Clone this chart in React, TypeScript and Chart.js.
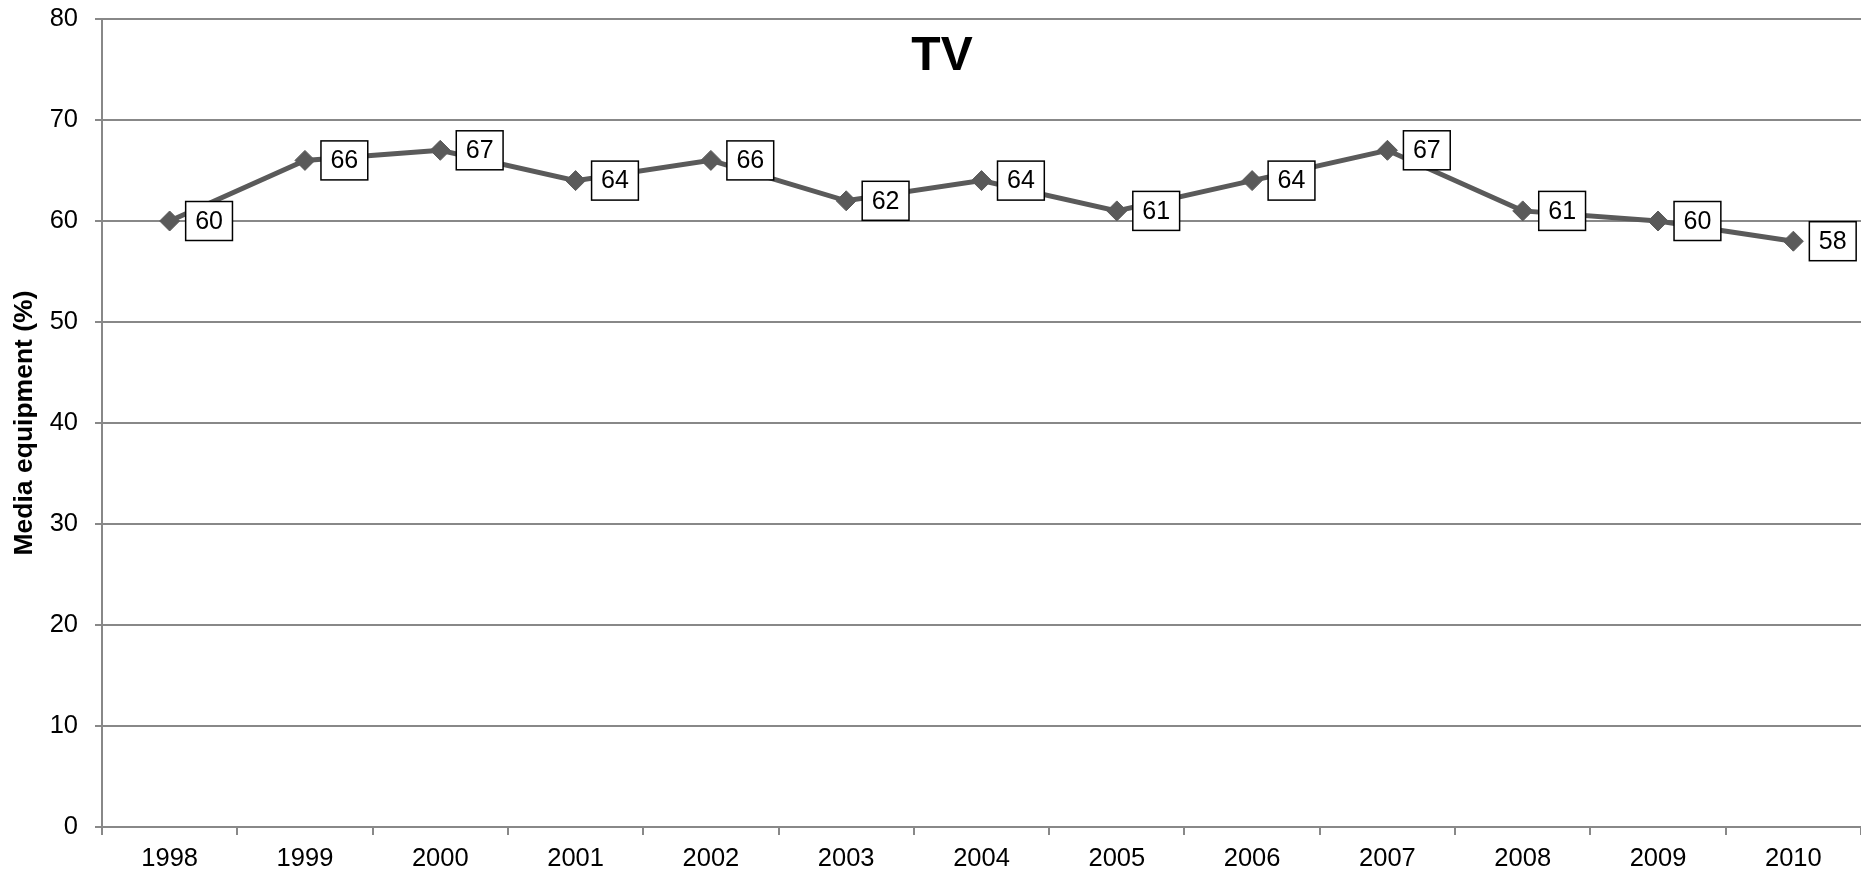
import React, { useEffect, useRef } from "react";
import { Chart, registerables } from "chart.js";

Chart.register(...registerables);

const years = ["1998", "1999", "2000", "2001", "2002", "2003", "2004", "2005", "2006", "2007", "2008", "2009", "2010"];
const tvValues = [60, 66, 67, 64, 66, 62, 64, 61, 64, 67, 61, 60, 58];
const chartTitle = "TV";
const yAxisTitle = "Media equipment (%)";

const FONT = "'Liberation Sans', Arial, sans-serif";
const GRID = "#888888";
const LINE = "#5a5a5a";

const overlayPlugin = {
  id: "overlay",
  afterDatasetsDraw(chart: any) {
    const ctx = chart.ctx;
    const meta = chart.getDatasetMeta(0);
    const data = chart.data.datasets[0].data as number[];
    ctx.save();
    ctx.font = `25px ${FONT}`;
    meta.data.forEach((pt: any, i: number) => {
      const text = String(data[i]);
      const tw = ctx.measureText(text).width;
      const w = tw + 19;
      const h = 39;
      const left = pt.x + 16;
      const top = pt.y - h / 2;
      ctx.fillStyle = "#ffffff";
      ctx.fillRect(left, top, w, h);
      ctx.strokeStyle = "#000000";
      ctx.lineWidth = 1.5;
      ctx.strokeRect(left, top, w, h);
      ctx.fillStyle = "#000000";
      ctx.textAlign = "center";
      ctx.textBaseline = "middle";
      ctx.fillText(text, left + w / 2, pt.y + 1);
    });
    ctx.restore();
  },
  afterDraw(chart: any) {
    const ctx = chart.ctx;
    const area = chart.chartArea;
    ctx.save();
    ctx.fillStyle = "#000000";
    ctx.font = `bold 48px ${FONT}`;
    ctx.textAlign = "center";
    ctx.textBaseline = "alphabetic";
    ctx.fillText(chartTitle, 942, 70);
    ctx.translate(25, (area.top + area.bottom) / 2);
    ctx.rotate(-Math.PI / 2);
    ctx.font = `bold 26.5px ${FONT}`;
    ctx.textBaseline = "middle";
    ctx.fillText(yAxisTitle, 0, 0);
    ctx.restore();
  },
};

export default function App() {
  const canvasRef = useRef<HTMLCanvasElement | null>(null);

  useEffect(() => {
    if (!canvasRef.current) return;
    const chart = new Chart(canvasRef.current, {
      type: "line",
      data: {
        labels: years,
        datasets: [
          {
            label: chartTitle,
            data: tvValues,
            borderColor: LINE,
            backgroundColor: LINE,
            borderWidth: 5,
            pointStyle: "rectRot",
            pointRadius: 10,
            pointBorderWidth: 1,
            pointBackgroundColor: LINE,
            pointBorderColor: LINE,
            tension: 0,
            clip: false,
          },
        ],
      },
      options: {
        animation: false,
        responsive: true,
        maintainAspectRatio: false,
        layout: { autoPadding: false, padding: { top: 19, right: 0, bottom: 0, left: 0 } },
        plugins: {
          legend: { display: false },
          title: { display: false },
          tooltip: { enabled: false },
        },
        scales: {
          x: {
            type: "category",
            offset: true,
            grid: {
              offset: true,
              drawOnChartArea: false,
              drawTicks: true,
              tickLength: 8,
              color: GRID,
              lineWidth: 2,
            },
            border: { display: true, color: GRID, width: 2 },
            ticks: {
              color: "#000000",
              font: { family: FONT, size: 25.5 },
              padding: 9,
              maxRotation: 0,
              autoSkip: false,
            },
            afterFit(scale: any) {
              scale.height = 44;
              scale.paddingLeft = 0;
              scale.paddingRight = 0;
            },
          },
          y: {
            min: 0,
            max: 80,
            ticks: {
              stepSize: 10,
              color: "#000000",
              font: { family: FONT, size: 25.5 },
              padding: 17,
            },
            grid: {
              color: GRID,
              lineWidth: 2,
              tickLength: 7,
              drawTicks: true,
            },
            border: { display: true, color: GRID, width: 2 },
            afterFit(scale: any) {
              scale.width = 102;
              scale.paddingTop = 0;
              scale.paddingBottom = 0;
            },
          },
        },
      },
      plugins: [overlayPlugin],
    });
    return () => chart.destroy();
  }, []);

  return (
    <div style={{ position: "fixed", left: 0, top: 0, width: 1861, height: 871, background: "#ffffff" }}>
      <canvas ref={canvasRef} />
    </div>
  );
}
